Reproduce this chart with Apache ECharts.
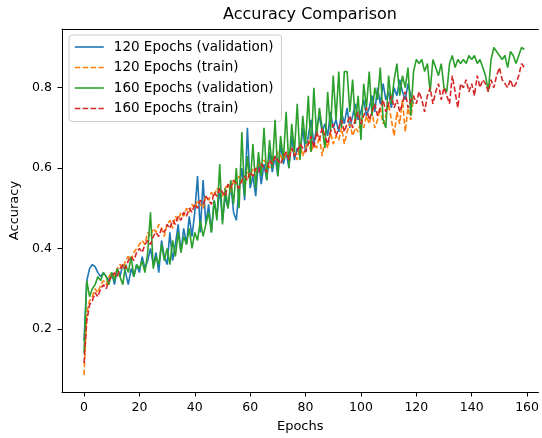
<!DOCTYPE html>
<html>
<head>
<meta charset="utf-8">
<script src="https://cdn.jsdelivr.net/npm/echarts@6/dist/echarts.min.js"></script>
<style>html,body{margin:0;padding:0;background:#fff}#c{width:542px;height:438px}</style>
</head>
<body>
<div id="c"></div>
<script>
const xTicks = [0, 20, 40, 60, 80, 100, 120, 140, 160];
const yTicks = [0.2, 0.4, 0.6, 0.8];
const seriesNames = ["120 Epochs (validation)", "120 Epochs (train)", "160 Epochs (validation)", "160 Epochs (train)"];

const val120 = [
  0.17, 0.32, 0.35, 0.36, 0.355, 0.34, 0.33, 0.34, 0.33, 0.32, 0.34,
  0.31, 0.35, 0.33, 0.36, 0.34, 0.31, 0.35, 0.33, 0.36, 0.34,
  0.38, 0.35, 0.37, 0.40, 0.36, 0.39, 0.34, 0.42, 0.38, 0.36,
  0.44, 0.37, 0.41, 0.46, 0.39, 0.45, 0.41, 0.48, 0.43, 0.49,
  0.58, 0.44, 0.57, 0.46, 0.51, 0.44, 0.52, 0.48, 0.55, 0.47,
  0.53, 0.50, 0.56, 0.49, 0.47, 0.55, 0.60, 0.52, 0.70, 0.55,
  0.58, 0.53, 0.62, 0.56, 0.61, 0.57, 0.64, 0.59, 0.63, 0.58,
  0.66, 0.61, 0.64, 0.60, 0.68, 0.62, 0.65, 0.63, 0.70, 0.64,
  0.68, 0.72, 0.66, 0.70, 0.73, 0.69, 0.71, 0.68, 0.74, 0.70,
  0.72, 0.69, 0.74, 0.71, 0.75, 0.70, 0.73, 0.76, 0.72, 0.74,
  0.77, 0.73, 0.75, 0.78, 0.74, 0.80, 0.76, 0.81, 0.77, 0.79,
  0.75, 0.80, 0.78, 0.82, 0.79, 0.77, 0.81, 0.78, 0.76
];
const train120 = [
  0.085, 0.24, 0.27, 0.28, 0.30, 0.29, 0.31, 0.32, 0.31, 0.33, 0.34,
  0.33, 0.35, 0.36, 0.35, 0.37, 0.38, 0.37, 0.39, 0.40, 0.41,
  0.42, 0.41, 0.44, 0.43, 0.45, 0.44, 0.46, 0.45, 0.43, 0.46,
  0.47, 0.45, 0.48, 0.47, 0.49, 0.48, 0.50, 0.49, 0.51, 0.50,
  0.52, 0.51, 0.50, 0.53, 0.52, 0.54, 0.53, 0.55, 0.54, 0.53,
  0.55, 0.56, 0.54, 0.57, 0.56, 0.58, 0.57, 0.56, 0.59, 0.58,
  0.60, 0.59, 0.61, 0.60, 0.62, 0.61, 0.60, 0.63, 0.62, 0.64,
  0.63, 0.62, 0.64, 0.63, 0.65, 0.64, 0.62, 0.66, 0.63, 0.65,
  0.67, 0.64, 0.66, 0.65, 0.68, 0.63, 0.67, 0.65, 0.69, 0.66,
  0.68, 0.67, 0.70, 0.66, 0.69, 0.71, 0.68, 0.70, 0.69, 0.72,
  0.70, 0.73, 0.71, 0.74, 0.70, 0.72, 0.75, 0.71, 0.73, 0.76,
  0.72, 0.68, 0.74, 0.71, 0.77, 0.69, 0.75, 0.72, 0.78
];
const val160 = [
  0.14, 0.32, 0.28, 0.30, 0.31, 0.33, 0.32, 0.34, 0.33, 0.31, 0.34,
  0.32, 0.35, 0.33, 0.31, 0.36, 0.34, 0.38, 0.33, 0.36, 0.35,
  0.37, 0.34, 0.39, 0.49, 0.35, 0.38, 0.36, 0.41, 0.37, 0.40,
  0.36, 0.42, 0.38, 0.44, 0.39, 0.43, 0.41, 0.45, 0.40, 0.44,
  0.42, 0.47, 0.43, 0.46, 0.49, 0.44, 0.52, 0.47, 0.61, 0.46,
  0.55, 0.50, 0.57, 0.51, 0.60, 0.50, 0.69, 0.53, 0.63, 0.56,
  0.66, 0.55, 0.64, 0.58, 0.70, 0.57, 0.67, 0.60, 0.72, 0.58,
  0.68, 0.62, 0.74, 0.60, 0.71, 0.64, 0.76, 0.62, 0.73, 0.66,
  0.78, 0.64, 0.80, 0.68, 0.75, 0.70, 0.65, 0.79, 0.69, 0.83,
  0.72, 0.84, 0.70, 0.84, 0.84, 0.74, 0.82, 0.71, 0.78, 0.67,
  0.81, 0.75, 0.84, 0.73, 0.80, 0.77, 0.85, 0.72, 0.70, 0.83,
  0.76, 0.82, 0.86, 0.78, 0.83, 0.80, 0.85, 0.73, 0.84, 0.87,
  0.86, 0.87, 0.84, 0.86, 0.79, 0.87, 0.85, 0.83, 0.86, 0.80,
  0.79, 0.86, 0.88, 0.85, 0.87, 0.86, 0.87, 0.86, 0.88, 0.87,
  0.88, 0.86, 0.87, 0.85, 0.83, 0.79, 0.87, 0.90, 0.89, 0.88,
  0.87, 0.88, 0.85, 0.89, 0.88, 0.86, 0.88, 0.90, 0.895
];
const train160 = [
  0.115, 0.22, 0.26, 0.27, 0.29, 0.28, 0.30, 0.31, 0.30, 0.32, 0.33,
  0.34, 0.33, 0.35, 0.36, 0.35, 0.37, 0.38, 0.37, 0.39, 0.40,
  0.39, 0.41, 0.42, 0.41, 0.43, 0.44, 0.43, 0.45, 0.44, 0.46,
  0.45, 0.47, 0.46, 0.48, 0.47, 0.49, 0.48, 0.50, 0.49, 0.51,
  0.50, 0.52, 0.51, 0.53, 0.52, 0.51, 0.54, 0.53, 0.55, 0.54,
  0.53, 0.56, 0.55, 0.57, 0.56, 0.55, 0.57, 0.58, 0.57, 0.59,
  0.58, 0.60, 0.59, 0.61, 0.60, 0.59, 0.62, 0.61, 0.63, 0.62,
  0.61, 0.63, 0.64, 0.62, 0.65, 0.63, 0.64, 0.66, 0.65, 0.64,
  0.66, 0.68, 0.65, 0.69, 0.67, 0.70, 0.68, 0.66, 0.69, 0.71,
  0.68, 0.70, 0.72, 0.69, 0.71, 0.73, 0.70, 0.72, 0.74, 0.71,
  0.73, 0.75, 0.72, 0.74, 0.76, 0.73, 0.75, 0.77, 0.74, 0.76,
  0.78, 0.75, 0.77, 0.74, 0.76, 0.79, 0.75, 0.77, 0.78, 0.76,
  0.79, 0.77, 0.74, 0.78, 0.80, 0.76, 0.79, 0.81, 0.77, 0.80,
  0.78, 0.76, 0.83, 0.79, 0.75, 0.81, 0.80, 0.82, 0.79, 0.81,
  0.78, 0.83, 0.80, 0.82, 0.81, 0.79, 0.82, 0.80, 0.83, 0.85,
  0.82, 0.81, 0.80, 0.82, 0.80, 0.81, 0.83, 0.86, 0.85
];

const colors = ["#1f77b4", "#ff7f0e", "#2ca02c", "#d62728"];
const allData = [val120, train120, val160, train160];
const dashed = [false, true, false, true];
const FONT = "DejaVu Sans";
const X_MIN = -7.95, X_MAX = 164.1;

const chart = echarts.init(document.getElementById('c'), null, {renderer: 'canvas'});
chart.setOption({
  animation: false,
  backgroundColor: '#fff',
  title: {
    text: 'Accuracy Comparison',
    left: 305, top: 2, textAlign: 'center',
    textStyle: {fontFamily: FONT, fontSize: 16, fontWeight: 'normal', color: '#000'}
  },
  grid: {left: 62, top: 29, bottom: 45, right: 0, show: false, containLabel: false},
  legend: {
    orient: 'vertical', left: 69, top: 35,
    padding: [5, 8, 6, 5], itemGap: 6.5, itemWidth: 29, itemHeight: 14,
    backgroundColor: 'rgba(255,255,255,0.8)', borderColor: '#cccccc', borderWidth: 1, borderRadius: 3,
    itemStyle: {opacity: 0},
    lineStyle: {width: 1.6, opacity: 1},
    textStyle: {fontFamily: FONT, fontSize: 13.5, color: '#000', padding: [0, 0, 0, 5]},
    data: seriesNames
  },
  xAxis: [{
    type: 'value', min: X_MIN, max: X_MAX,
    name: 'Epochs', nameLocation: 'middle', nameGap: 28,
    nameTextStyle: {fontFamily: FONT, fontSize: 13, color: '#000'},
    splitLine: {show: false},
    axisLine: {show: true, onZero: false, lineStyle: {color: '#000', width: 1}},
    axisTick: {show: true, length: 4.5, lineStyle: {color: '#000'}, customValues: xTicks},
    axisLabel: {fontFamily: FONT, fontSize: 12.5, color: '#000', margin: 9, customValues: xTicks, formatter: v => String(v)}
  }, {
    type: 'value', position: 'top', min: X_MIN, max: X_MAX,
    splitLine: {show: false},
    axisLine: {show: true, onZero: false, lineStyle: {color: '#000', width: 1}},
    axisTick: {show: false}, axisLabel: {show: false}
  }],
  yAxis: {
    type: 'value', min: 0.043, max: 0.946,
    name: 'Accuracy', nameLocation: 'middle', nameGap: 37, nameRotate: 90,
    nameTextStyle: {fontFamily: FONT, fontSize: 13, color: '#000'},
    splitLine: {show: false},
    axisLine: {show: true, onZero: false, lineStyle: {color: '#000', width: 1}},
    axisTick: {show: true, length: 4.5, lineStyle: {color: '#000'}, customValues: yTicks},
    axisLabel: {fontFamily: FONT, fontSize: 12.5, color: '#000', margin: 10, customValues: yTicks, formatter: v => v.toFixed(1)}
  },
  series: allData.map((arr, k) => ({
    name: seriesNames[k],
    type: 'line',
    xAxisIndex: 0,
    data: arr.map((v, i) => [i, v]),
    showSymbol: false, symbol: 'none',
    color: colors[k],
    lineStyle: {color: colors[k], width: 1.6, type: dashed[k] ? [5.5, 2.4] : 'solid'},
    z: 2 + k
  }))
});
</script>
</body>
</html>
